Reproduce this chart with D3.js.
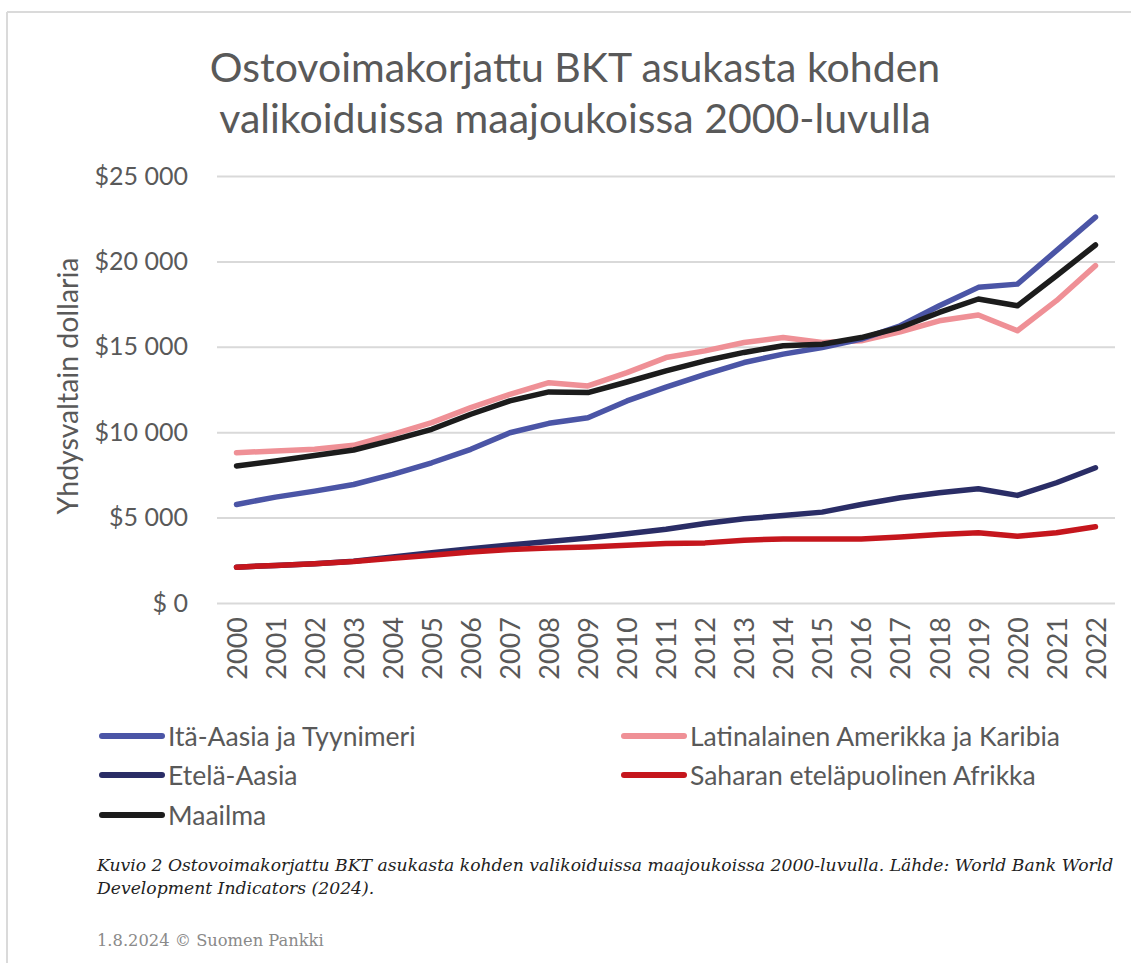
<!DOCTYPE html>
<html>
<head>
<meta charset="utf-8">
<script src="https://cdn.jsdelivr.net/npm/d3@7"></script>
<style>
  body { margin: 0; background: #fff; }
  svg { display: block; }
</style>
</head>
<body>
<svg id="chart"></svg>
<script>
// data
const years = d3.range(2000, 2023);
const itaAasia = [5770, 6200, 6550, 6940, 7530, 8210, 9000, 9970, 10520, 10850, 11830, 12640,
  13390, 14080, 14570, 14960, 15450, 16230, 17400, 18480, 18670, 20630, 22590];
const latAmerikka = [8800, 8900, 9000, 9230, 9875, 10560, 11440, 12220, 12900, 12710, 13490, 14370,
  14760, 15250, 15540, 15250, 15350, 15880, 16520, 16860, 15940, 17700, 19750];
const etelaAasia = [2100, 2200, 2300, 2440, 2700, 2950, 3180, 3400, 3600, 3800, 4050, 4320,
  4650, 4930, 5120, 5320, 5770, 6160, 6450, 6690, 6300, 7040, 7920];
const saharan = [2100, 2200, 2300, 2430, 2620, 2800, 2980, 3130, 3220, 3280, 3380, 3480,
  3520, 3680, 3750, 3750, 3750, 3870, 4010, 4110, 3910, 4110, 4460];
const maailma = [8020, 8310, 8640, 8960, 9540, 10170, 11050, 11830, 12360, 12320, 12940, 13590,
  14180, 14670, 15060, 15150, 15540, 16130, 17010, 17800, 17400, 19160, 20960];
const yTicks = [0, 5000, 10000, 15000, 20000, 25000];

const series = [
  { name: "Itä-Aasia ja Tyynimeri", values: itaAasia, color: "#4b55a6" },
  { name: "Latinalainen Amerikka ja Karibia", values: latAmerikka, color: "#ef9096" },
  { name: "Etelä-Aasia", values: etelaAasia, color: "#2a2d66" },
  { name: "Saharan eteläpuolinen Afrikka", values: saharan, color: "#c5161d" },
  { name: "Maailma", values: maailma, color: "#1c1c1c" }
];
// drawing order (front-most last)
const drawOrder = [1, 0, 2, 3, 4];

const width = 1131;
const height = 963;
const plot = { left: 217, right: 1115, top: 176, bottom: 603 };
const sans = "Lato, 'Open Sans', sans-serif";
const grey = "#595959";

const svg = d3.select("#chart")
    .attr("width", width)
    .attr("height", height);

// frame lines of the page
svg.append("line").attr("x1", 7).attr("x2", width).attr("y1", 12).attr("y2", 12)
    .attr("stroke", "#dadada").attr("stroke-width", 2);
svg.append("line").attr("x1", 7).attr("x2", 7).attr("y1", 12).attr("y2", height)
    .attr("stroke", "#dadada").attr("stroke-width", 2);

// title
const title = svg.append("text")
    .attr("text-anchor", "middle")
    .attr("font-family", sans)
    .attr("font-size", 41)
    .attr("fill", grey);
title.append("tspan").attr("x", 575).attr("y", 82).text("Ostovoimakorjattu BKT asukasta kohden");
title.append("tspan").attr("x", 575).attr("y", 133).text("valikoiduissa maajoukoissa 2000-luvulla");

// scales
const x = d3.scalePoint()
    .domain(years)
    .range([plot.left, plot.right])
    .padding(0.5);

const y = d3.scaleLinear()
    .domain([0, 25000])
    .range([plot.bottom, plot.top]);

// y axis with gridlines
const yAxis = svg.append("g")
    .attr("transform", `translate(${plot.left},0)`)
    .call(d3.axisLeft(y)
        .tickValues(yTicks)
        .tickSize(-(plot.right - plot.left))
        .tickPadding(29)
        .tickFormat(d => "$" + (d === 0 ? " 0" : d3.format(",")(d).replace(",", " "))));
yAxis.select(".domain").remove();
yAxis.selectAll(".tick line").attr("stroke", "#d9d9d9").attr("stroke-width", 2);
yAxis.selectAll(".tick text")
    .attr("font-family", sans)
    .attr("font-size", 25)
    .attr("fill", grey);

// x axis labels
const xAxis = svg.append("g")
    .attr("transform", `translate(0,${plot.bottom})`)
    .call(d3.axisBottom(x).tickSize(0).tickPadding(0));
xAxis.select(".domain").remove();
xAxis.selectAll(".tick text")
    .attr("font-family", sans)
    .attr("font-size", 27)
    .attr("fill", grey)
    .attr("text-anchor", "end")
    .attr("transform", "rotate(-90)")
    .attr("x", -14)
    .attr("y", 0)
    .attr("dy", "0.36em");

// y axis title
svg.append("text")
    .attr("transform", "translate(78,386) rotate(-90)")
    .attr("text-anchor", "middle")
    .attr("font-family", sans)
    .attr("font-size", 28.5)
    .attr("fill", grey)
    .text("Yhdysvaltain dollaria");

// lines
const line = d3.line()
    .x((d, i) => x(years[i]))
    .y(d => y(d));

svg.append("g")
    .selectAll("path")
    .data(drawOrder.map(i => series[i]))
    .join("path")
      .attr("d", d => line(d.values))
      .attr("fill", "none")
      .attr("stroke", d => d.color)
      .attr("stroke-width", 5.5)
      .attr("stroke-linecap", "round")
      .attr("stroke-linejoin", "round");

// legend
const legendPos = [
  { x: 100, y: 736 }, { x: 622, y: 736 },
  { x: 100, y: 775 }, { x: 622, y: 775 },
  { x: 100, y: 815 }
];
const legend = svg.append("g")
    .selectAll("g")
    .data(series)
    .join("g")
      .attr("transform", (d, i) => `translate(${legendPos[i].x},${legendPos[i].y})`);
legend.append("line")
    .attr("x1", 2).attr("x2", 62)
    .attr("stroke", d => d.color)
    .attr("stroke-width", 6)
    .attr("stroke-linecap", "round");
legend.append("text")
    .attr("x", 68)
    .attr("dy", "0.36em")
    .attr("font-family", sans)
    .attr("font-size", 26.5)
    .attr("fill", grey)
    .text(d => d.name);

// caption
const caption = svg.append("text")
    .attr("font-family", "'DejaVu Serif', serif")
    .attr("font-style", "italic")
    .attr("font-size", 17.2)
    .attr("fill", "#222");
caption.append("tspan").attr("x", 97).attr("y", 871)
    .text("Kuvio 2 Ostovoimakorjattu BKT asukasta kohden valikoiduissa maajoukoissa 2000-luvulla. Lähde: World Bank World");
caption.append("tspan").attr("x", 97).attr("y", 894)
    .text("Development Indicators (2024).");

svg.append("text")
    .attr("x", 97).attr("y", 946)
    .attr("font-family", "'DejaVu Serif', serif")
    .attr("font-size", 16.3)
    .attr("fill", "#8a8a8a")
    .text("1.8.2024 © Suomen Pankki");
</script>
</body>
</html>
